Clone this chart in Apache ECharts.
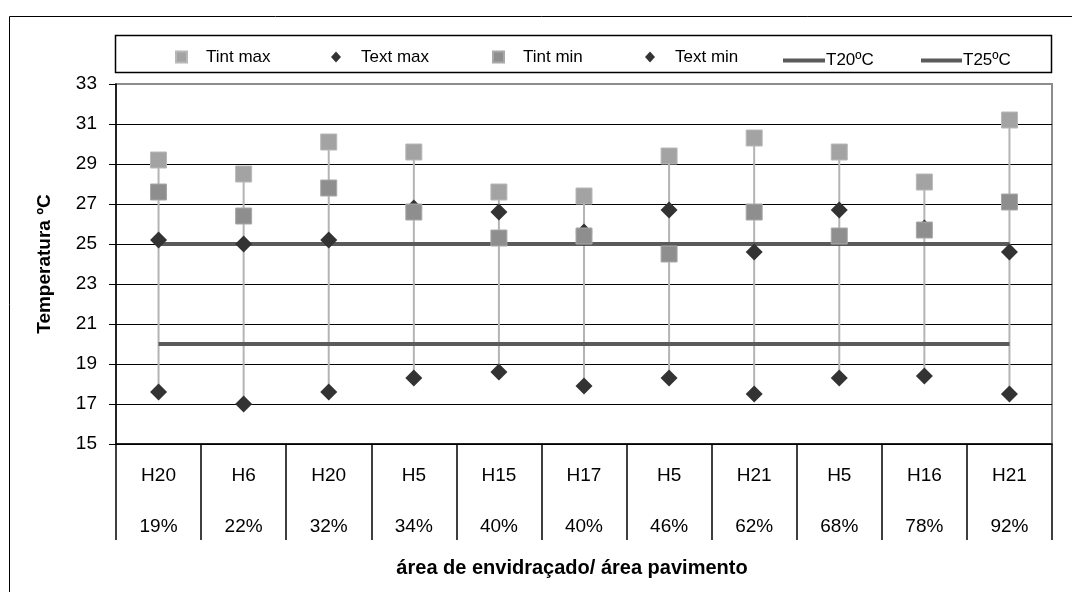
<!DOCTYPE html>
<html>
<head>
<meta charset="utf-8">
<script src="https://cdn.jsdelivr.net/npm/echarts@6/dist/echarts.min.js"></script>
<style>
  html, body { margin: 0; padding: 0; background: #fff; }
  #chart { width: 1072px; height: 592px; }
</style>
</head>
<body>
<div id="chart"></div>
<script>
// ---- data ----
const houses = ['H20', 'H6', 'H20', 'H5', 'H15', 'H17', 'H5', 'H21', 'H5', 'H16', 'H21'];
const ratios = ['19%', '22%', '32%', '34%', '40%', '40%', '46%', '62%', '68%', '78%', '92%'];
const tintMax = [29.2, 28.5, 30.1, 29.6, 27.6, 27.4, 29.4, 30.3, 29.6, 28.1, 31.2];
const textMax = [25.2, 25.0, 25.2, 26.8, 26.6, 25.6, 26.7, 24.6, 26.7, 25.8, 24.6];
const tintMin = [27.6, 26.4, 27.8, 26.6, 25.3, 25.4, 24.5, 26.6, 25.4, 25.7, 27.1];
const textMin = [17.6, 17.0, 17.6, 18.3, 18.6, 17.9, 18.3, 17.5, 18.3, 18.4, 17.5];
const t20 = [20, 20, 20, 20, 20, 20, 20, 20, 20, 20, 20];
const t25 = [25, 25, 25, 25, 25, 25, 25, 25, 25, 25, 25];
const yMin = 15, yMax = 33, yStep = 2;

const seriesNames = ['Tint max', 'Text max', 'Tint min', 'Text min', 'T20ºC', 'T25ºC'];
const xAxisTitle = 'área de envidraçado/ área pavimento';
const yAxisTitle = 'Temperatura ºC';

// ---- derived ----
const labels = houses.map((h, i) => h + '\n\n' + ratios[i]);
const hiLo = houses.map((h, i) => {
  const v = [tintMax[i], textMax[i], tintMin[i], textMin[i]];
  return [i, Math.max.apply(null, v), Math.min.apply(null, v)];
});

const FONT = '"Liberation Sans", Arial, sans-serif';
const C_TMAX = '#a3a3a3', C_TMIN = '#8e8e8e', C_DIA = '#333333', C_T = '#5a5a5a';

function legendItem(name, left, icon, w, h, pad) {
  return {
    data: [name], left: left, top: 54 - h / 2, icon: icon,
    itemWidth: w, itemHeight: h, selectedMode: false, padding: 0,
    textStyle: { fontFamily: FONT, fontSize: 17, color: '#000', padding: [0, 0, 0, pad] }
  };
}

const chart = echarts.init(document.getElementById('chart'), null, { renderer: 'canvas' });
chart.setOption({
  animation: false,
  backgroundColor: '#fff',
  textStyle: { fontFamily: FONT },
  graphic: [
    { type: 'rect', shape: { x: 9.5, y: 16.5, width: 1100, height: 620 },
      style: { fill: 'none', stroke: '#000', lineWidth: 1 }, z: -10 },
    { type: 'rect', shape: { x: 115.5, y: 35.5, width: 936, height: 37 },
      style: { fill: 'none', stroke: '#000', lineWidth: 1.5 }, z: -10 }
  ],
  legend: [
    legendItem(seriesNames[0], 175, 'rect', 11, 11, 14),
    legendItem(seriesNames[1], 331, 'diamond', 10, 11, 15),
    legendItem(seriesNames[2], 492, 'rect', 11, 11, 14),
    legendItem(seriesNames[3], 645, 'diamond', 10, 11, 15),
    legendItem(seriesNames[4], 783, 'rect', 42, 4, -4),
    legendItem(seriesNames[5], 921, 'rect', 41, 4, -4)
  ],
  grid: {
    left: 116, right: 20, top: 84, height: 360, show: true,
    borderColor: '#8c8c8c', borderWidth: 2, backgroundColor: 'transparent'
  },
  xAxis: {
    type: 'category', data: labels, boundaryGap: true,
    axisLine: { lineStyle: { color: '#000', width: 1.5 } },
    axisTick: { show: true, length: 96, alignWithLabel: false, lineStyle: { color: '#000', width: 1.5 } },
    axisLabel: { color: '#000', fontSize: 19, lineHeight: 25.5, margin: 19, fontFamily: FONT, interval: 0 },
    name: xAxisTitle, nameLocation: 'middle', nameGap: 114,
    nameTextStyle: { fontSize: 20, fontWeight: 'bold', color: '#000', fontFamily: FONT, padding: [0, 24, 0, 0] }
  },
  yAxis: {
    type: 'value', min: yMin, max: yMax, interval: yStep,
    axisLine: { show: true, lineStyle: { color: '#000', width: 1.5 } },
    axisTick: { show: true, length: 7, lineStyle: { color: '#000', width: 1 } },
    axisLabel: { color: '#000', fontSize: 19, margin: 19, fontFamily: FONT },
    splitLine: { show: true, showMaxLine: false, lineStyle: { color: '#000', width: 1.2 } },
    name: yAxisTitle, nameLocation: 'middle', nameGap: 62, nameRotate: 90,
    nameTextStyle: { fontSize: 19, fontWeight: 'bold', color: '#000', fontFamily: FONT }
  },
  series: [
    {
      type: 'custom', name: 'hilo', data: hiLo, z: 1, silent: true,
      renderItem: function (params, api) {
        const p1 = api.coord([api.value(0), api.value(1)]);
        const p2 = api.coord([api.value(0), api.value(2)]);
        return { type: 'line', shape: { x1: p1[0], y1: p1[1], x2: p2[0], y2: p2[1] },
                 style: { stroke: '#b4b4b4', lineWidth: 2 } };
      }
    },
    { type: 'line', name: seriesNames[4], data: t20, symbol: 'none', z: 2,
      lineStyle: { color: C_T, width: 4 }, itemStyle: { color: C_T } },
    { type: 'line', name: seriesNames[5], data: t25, symbol: 'none', z: 2,
      lineStyle: { color: C_T, width: 4 }, itemStyle: { color: C_T } },
    { type: 'scatter', name: seriesNames[0], data: tintMax, symbol: 'rect', symbolSize: 16, z: 3,
      itemStyle: { color: C_TMAX, borderColor: '#b8b8b8', borderWidth: 1, opacity: 1 } },
    { type: 'scatter', name: seriesNames[1], data: textMax, symbol: 'diamond', symbolSize: 17, z: 3,
      itemStyle: { color: C_DIA, opacity: 1 } },
    { type: 'scatter', name: seriesNames[2], data: tintMin, symbol: 'rect', symbolSize: 16, z: 3,
      itemStyle: { color: C_TMIN, borderColor: '#a8a8a8', borderWidth: 1, opacity: 1 } },
    { type: 'scatter', name: seriesNames[3], data: textMin, symbol: 'diamond', symbolSize: 17, z: 3,
      itemStyle: { color: C_DIA, opacity: 1 } }
  ]
});
</script>
</body>
</html>
